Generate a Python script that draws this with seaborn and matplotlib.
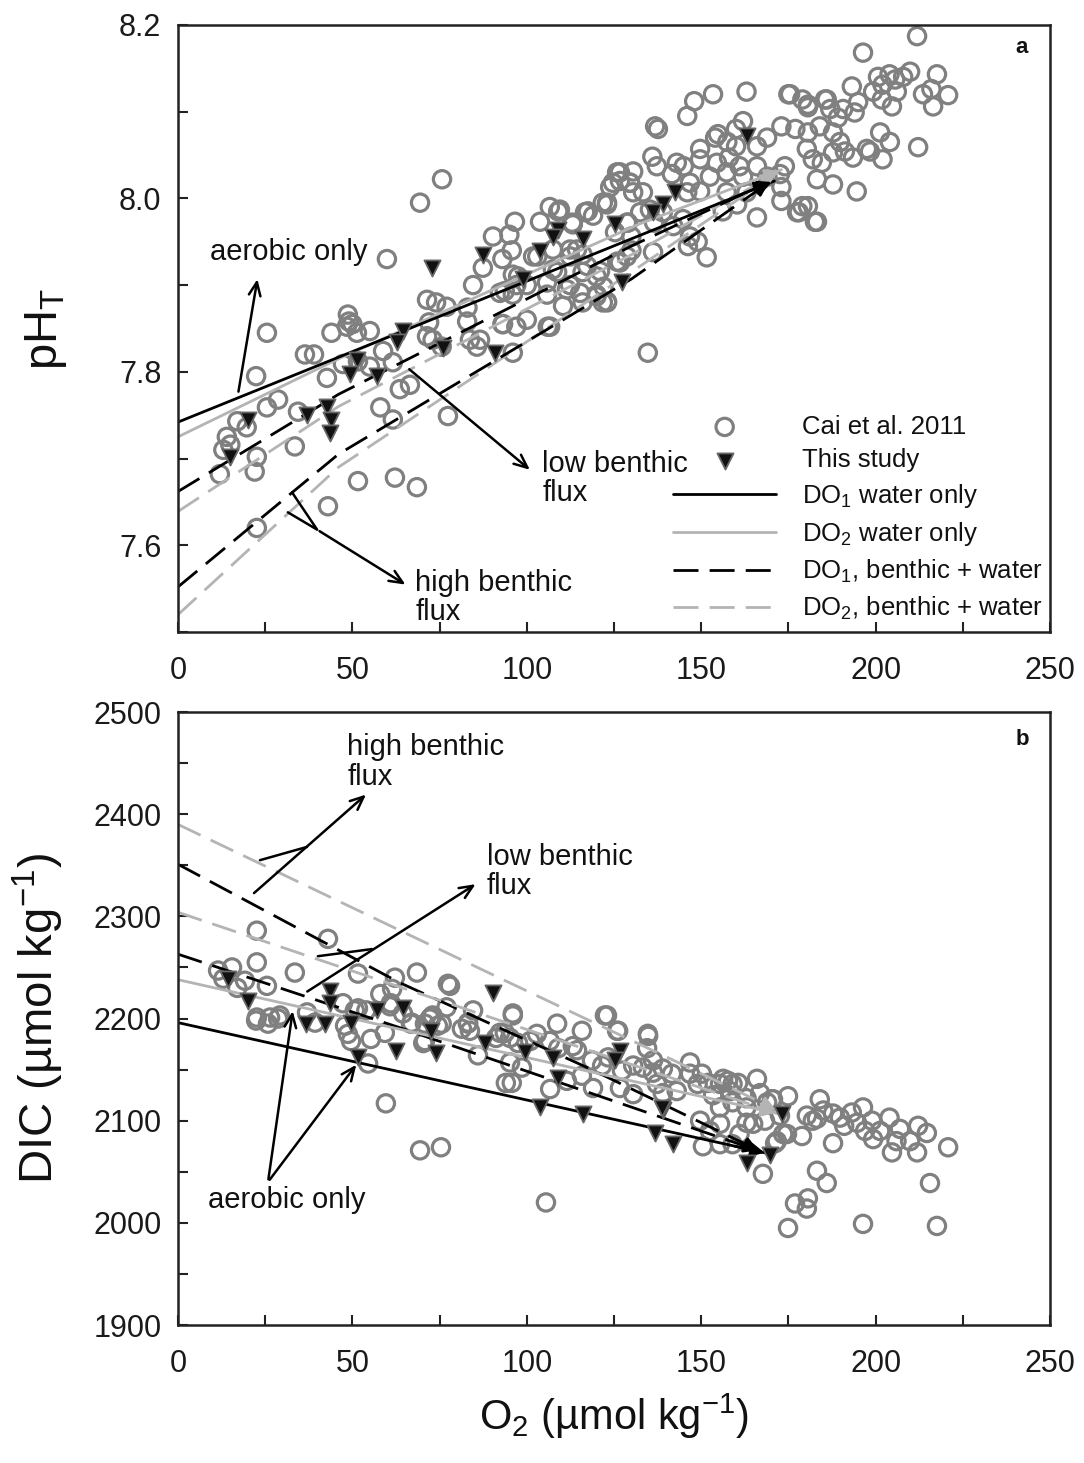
import matplotlib
matplotlib.use("Agg")
import numpy as np
import pandas as pd
import matplotlib.pyplot as plt
import seaborn as sns
from matplotlib.ticker import MultipleLocator

# ---------------- panel a: pH vs O2 ----------------
cai_a_o2 = [13, 14, 25.5, 36.4, 39, 44, 48.4, 51.3, 55, 49, 22.4, 15, 12, 17, 19.7, 25.5, 28.7, 22.6, 22, 34.4,
            33.5, 42.7, 47.3, 51.6, 55, 58.8, 61.6, 63.6, 66.5, 58, 61.6, 51.6, 62.2, 68.5, 43, 22.6, 77.4, 96, 106, 93,
            83.7, 85.7, 72, 71.4, 75.7, 69.4, 59.9, 48.7, 50, 71.4, 74, 77, 84.6, 83, 90.3, 95, 96.6, 95.7, 93, 87.4,
            93.7, 97, 97.5, 97, 100, 105.8, 103.8, 106.6, 109, 113, 116.7, 119, 121.8, 123.9, 101.8, 108.7, 112.4, 114.4, 117.3, 120,
            112.4, 120, 121.8, 106.7, 96, 92.3, 96, 100, 82.9, 73, 75.6, 86.6, 93.2, 109.5, 113.2, 117.5, 123, 125.9, 126.7, 129.6,
            130.5, 128.7, 103, 107.5, 107.5, 112.4, 116, 116, 121, 105.8, 111.5, 115.3, 116, 120, 123, 125.9, 128.7, 110.4, 134.7,
            211.9, 196.4, 193.2, 153.4, 163, 175, 179, 180.6, 185.5, 148, 146, 136.8, 137.6, 162, 136, 143, 145, 141.6, 149.7,
            154, 157.5, 160, 166, 168.9, 173, 177, 180.6, 184, 187.8, 189.8, 180.3, 182, 184.6, 187.8, 191.2, 193.5, 197.5, 201.3,
            204.1, 202, 212.2, 183.2, 187.8, 194.6, 177.5, 180.6, 183.2, 166, 173, 173, 172.6, 174, 160, 154.8, 149.7, 154.5, 158,
            161, 166, 169, 162, 157.3, 152.5, 146.8, 149.7, 157.3, 163, 146, 137.3, 130.5, 126.7, 124.7, 129.6, 133.3, 123, 132.5,
            135.3, 139, 136.5, 142, 129, 125.3, 130, 144.8, 146.8, 136.2, 146.2, 149, 151.6, 123, 122, 126.7, 130, 156.2, 160.3,
            200.7, 204, 205.6, 209.9, 207.9, 217.6, 216, 213.6, 220.8, 216.5, 199.3, 201.8, 204.7, 206.1, 202, 195, 190.7, 194,
            187, 186, 175.5, 180.6, 189.2, 198.4, 182.6, 178, 179]
cai_a_ph = [7.71, 7.725, 7.845, 7.82, 7.82, 7.845, 7.852, 7.845, 7.847, 7.858, 7.795, 7.716, 7.682, 7.743, 7.736, 7.759, 7.768, 7.702, 7.685, 7.754,
            7.714, 7.793, 7.809, 7.812, 7.806, 7.824, 7.811, 7.78, 7.785, 7.759, 7.745, 7.674, 7.678, 7.667, 7.645, 7.62, 7.749, 7.822, 7.852, 7.855,
            7.837, 7.829, 7.857, 7.841, 8.022, 7.995, 7.93, 7.866, 7.855, 7.883, 7.88, 7.875, 7.9, 7.874, 7.956, 7.958, 7.973, 7.94, 7.93, 7.92,
            7.893, 7.9, 7.91, 7.852, 7.86, 7.889, 7.973, 7.99, 7.985, 7.972, 7.984, 7.98, 7.995, 8.013, 7.933, 7.915, 7.933, 7.941, 7.922, 7.91,
            7.9, 7.887, 7.88, 7.852, 7.912, 7.891, 7.889, 7.9, 7.858, 7.837, 7.829, 7.837, 7.855, 7.987, 7.97, 7.985, 7.995, 8.03, 8.02, 8.018,
            8.007, 7.972, 7.933, 7.941, 7.918, 7.941, 7.935, 7.915, 7.916, 7.903, 7.895, 7.891, 7.88, 7.889, 7.88, 7.927, 7.933, 7.876, 7.822,
            8.187, 8.168, 8.129, 8.12, 8.123, 8.12, 8.114, 8.108, 8.114, 8.112, 8.095, 8.083, 8.08, 8.089, 8.048, 8.041, 8.037, 8.028, 8.057,
            8.07, 8.065, 8.06, 8.06, 8.07, 8.083, 8.08, 8.076, 8.083, 8.076, 8.065, 8.057, 8.045, 8.041, 8.053, 8.054, 8.047, 8.057, 8.076,
            8.065, 8.045, 8.059, 8.022, 8.016, 8.008, 7.984, 7.991, 7.973, 7.978, 7.997, 8.013, 8.028, 8.037, 8.08, 8.074, 8.045, 8.041, 8.047,
            8.037, 8.037, 8.025, 8.025, 8.03, 8.025, 8.018, 8.008, 8.007, 8.007, 8.007, 8.037, 8.031, 8.03, 8.018, 8.018, 8.007, 7.993, 7.984,
            7.987, 7.984, 7.972, 7.968, 7.972, 7.961, 7.956, 7.976, 7.956, 7.938, 7.945, 7.95, 7.932, 7.881, 7.898, 7.926, 7.94, 7.985, 7.993,
            8.14, 8.143, 8.137, 8.146, 8.14, 8.143, 8.126, 8.12, 8.119, 8.106, 8.123, 8.114, 8.106, 8.123, 8.131, 8.111, 8.103, 8.099,
            8.103, 8.114, 8.12, 8.105, 8.093, 8.054, 7.973, 7.984, 7.991]

study_a_o2 = [72.8, 87.4, 103.8, 109, 107.5, 116, 64.5, 125.3, 127.3, 99, 62.8, 76, 51.3, 49.3, 57, 91, 20, 15, 37, 42.7,
              44, 43.6, 163, 142.5, 139, 136.2]
study_a_ph = [7.92, 7.935, 7.939, 7.964, 7.956, 7.953, 7.847, 7.97, 7.904, 7.907, 7.834, 7.828, 7.814, 7.797, 7.795, 7.822, 7.745, 7.702, 7.75, 7.76,
              7.745, 7.73, 8.072, 8.007, 7.993, 7.984]

# model trajectories (start -> end)
a_do1_water_o2 = [0, 171]
a_do1_water_ph = [7.742, 8.02]
a_do2_water_o2 = [0, 46, 132, 173]
a_do2_water_ph = [7.725, 7.815, 7.97, 8.033]
a_do1_low_o2 = [0, 46, 130, 170]
a_do1_low_ph = [7.662, 7.774, 7.945, 8.02]
a_do2_low_o2 = [0, 46, 130, 172]
a_do2_low_ph = [7.639, 7.76, 7.935, 8.03]
a_do1_high_o2 = [0, 46, 130, 170]
a_do1_high_ph = [7.552, 7.705, 7.907, 8.02]
a_do2_high_o2 = [0, 46, 130, 172]
a_do2_high_ph = [7.52, 7.69, 7.915, 8.03]

# ---------------- panel b: DIC vs O2 ----------------
cai_b_o2 = [22.6, 43, 22.6, 33.5, 15.5, 11.5, 13, 17, 25.5, 51.6, 62.2, 68.5, 77.4, 58, 61.4, 96, 22.6, 26.4, 29.2, 37,
            47.3, 51.6, 60.8, 64.5, 73, 77, 84.6, 19.2, 61, 22.4, 25.8, 28.7, 39.3, 47.9, 48.7, 49.6, 55.3, 59.3, 50.7, 54,
            66.8, 70.8, 74.5, 72.5, 70.8, 83.1, 86, 91.2, 93.7, 94, 54.5, 59.6, 69.4, 75.4, 78, 67, 72.2, 75.6, 83.2, 83.7,
            81.4, 70.3, 96, 92.3, 95.2, 97.5, 101, 102.9, 95.2, 98.6, 95.7, 108.7, 106.6, 109, 113.2, 115.8, 114.4, 118.7, 115.8, 119,
            106.7, 111.5, 122.4, 126.2, 123.3, 121.6, 127.3, 130.5, 126.7, 130.5, 134.7, 134.5, 136.2, 133.3, 136.2, 139, 141.6, 137.3, 139, 143,
            146.8, 146.8, 150.2, 149, 152, 153.4, 155.4, 157.7, 160.6, 158.3, 155.4, 159, 163, 163, 166, 166.9, 168.9, 170.6, 174.9, 172.6,
            173.5, 171.7, 168.3, 164.9, 161, 163, 155.4, 152.5, 149.7, 150.5, 155.4, 159, 167.7, 180.3, 178.9, 182, 184, 183.2, 187.8, 189.8,
            187.8, 193.2, 196.4, 194.7, 199, 201.3, 199.3, 204, 207, 204.7, 209.9, 211.9, 212.2, 214.7, 220.8, 183.2, 186, 176.9, 180.6, 180.3,
            174.9, 196.4, 215.6, 217.6, 105.5, 123, 125.9, 134.8, 156.3, 159, 170.3, 174.6, 171.2, 185, 191, 197, 206]
cai_b_dic = [2286, 2278, 2255, 2245, 2250, 2247, 2239, 2230, 2232, 2244, 2240, 2245, 2234, 2224, 2229, 2205, 2201, 2201, 2203, 2206,
             2215, 2210, 2212, 2205, 2203, 2211, 2208, 2237, 2215, 2198, 2195, 2200, 2196, 2193, 2185, 2178, 2180, 2186, 2208, 2208,
             2195, 2195, 2193, 2201, 2178, 2195, 2164, 2181, 2186, 2137, 2156, 2117, 2071, 2074, 2232, 2196, 2200, 2195, 2196, 2188,
             2190, 2176, 2203, 2186, 2181, 2176, 2178, 2185, 2157, 2152, 2137, 2195, 2178, 2171, 2173, 2188, 2169, 2159, 2144, 2132,
             2131, 2139, 2203, 2188, 2162, 2154, 2149, 2154, 2132, 2126, 2185, 2171, 2159, 2152, 2147, 2151, 2146, 2136, 2127, 2129,
             2157, 2146, 2146, 2136, 2137, 2125, 2136, 2139, 2137, 2129, 2113, 2118, 2122, 2113, 2141, 2127, 2118, 2121, 2124, 2105,
             2087, 2080, 2100, 2097, 2087, 2098, 2097, 2090, 2100, 2075, 2077, 2077, 2048, 2105, 2085, 2100, 2121, 2102, 2107, 2103,
             2078, 2108, 2113, 2098, 2100, 2090, 2082, 2103, 2092, 2069, 2080, 2069, 2095, 2088, 2074, 2051, 2039, 2019, 2024, 2014,
             1995, 1999, 2039, 1997, 2020, 2203, 2188, 2183, 2141, 2136, 2121, 2087, 2078, 2110, 2095, 2090, 2080]

study_b_o2 = [14.3, 20, 43.6, 43.6, 57, 64.5, 90.3, 36.7, 42.1, 49.6, 72.5, 74, 62.5, 51.6, 88, 99.5, 107.5, 109, 126.7, 125.3,
              139, 103.8, 116.1, 136.8, 142, 163, 169.7, 173.2, 138.7]
study_b_dic = [2239, 2217, 2227, 2215, 2208, 2210, 2225, 2195, 2195, 2196, 2188, 2166, 2168, 2162, 2176, 2167, 2161, 2142, 2168, 2159,
               2110, 2113, 2107, 2088, 2077, 2059, 2066, 2107, 2112]

b_do1_water_o2 = [0, 169]
b_do1_water_dic = [2196, 2068]
b_do2_water_o2 = [0, 63, 172]
b_do2_water_dic = [2238, 2190, 2107]
b_do1_low_o2 = [0, 64.5, 167]
b_do1_low_dic = [2263, 2190, 2070]
b_do2_low_o2 = [0, 67, 172]
b_do2_low_dic = [2304, 2227, 2107]
b_do1_high_o2 = [0, 63.6, 118, 167]
b_do1_high_dic = [2351, 2235, 2151, 2070]
b_do2_high_o2 = [0, 92, 144, 172]
b_do2_high_dic = [2390, 2240, 2156, 2110]

# ---------------- style ----------------
sns.set_theme(style="ticks")
plt.rcParams["font.family"] = ["Liberation Sans", "DejaVu Sans"]
plt.rcParams["mathtext.fontset"] = "custom"
plt.rcParams["mathtext.rm"] = "Liberation Sans"
plt.rcParams["mathtext.it"] = "Liberation Sans:italic"
plt.rcParams["mathtext.bf"] = "Liberation Sans:bold"

CIRC = "#808080"
GRAY_LINE = "#b4b4b4"
LW = 2.0
DASH = (0, (9, 4))

fig = plt.figure(figsize=(10.84, 14.63), dpi=100)
ax_a = fig.add_axes([0.1642, 0.568, 0.8044, 0.415])
ax_b = fig.add_axes([0.1642, 0.0943, 0.8044, 0.419])


def draw_line(ax, xs, ys, color, ls, label=None):
    sns.lineplot(x=xs, y=ys, ax=ax, sort=False, color=color, linewidth=LW,
                 linestyle=ls, label=label, legend=False)
    # filled arrow head at the end of the trajectory
    ax.annotate("", xy=(xs[-1], ys[-1]),
                xytext=(xs[-1] - 0.06 * (xs[-1] - xs[-2]), ys[-1] - 0.06 * (ys[-1] - ys[-2])),
                arrowprops=dict(arrowstyle="-|>", color=color, lw=LW, mutation_scale=20))


def draw_points(ax, xs, ys, label_c=None, label_t=None, tx=None, ty=None):
    sns.scatterplot(x=xs, y=ys, ax=ax, marker="o", s=155, facecolor="none",
                    edgecolor=CIRC, linewidth=2.3, label=label_c, legend=False, zorder=2)
    sns.scatterplot(x=tx, y=ty, ax=ax, marker="v", s=135, color="#111111",
                    edgecolor="#666666", linewidth=1.3, label=label_t, legend=False, zorder=4)


def style_axis(ax):
    for sp in ax.spines.values():
        sp.set_visible(True)
        sp.set_linewidth(1.8)
        sp.set_color("#222222")
    ax.tick_params(axis="both", which="both", direction="in", length=7, width=1.5,
                   labelsize=22, colors="#222222", labelcolor="#1a1a1a")
    ax.tick_params(axis="y", pad=12)
    ax.tick_params(axis="x", pad=17)
    ax.set_xlim(0, 250)
    ax.xaxis.set_major_locator(MultipleLocator(50))
    ax.xaxis.set_minor_locator(MultipleLocator(25))


ARW = dict(arrowstyle="->, head_length=0.8, head_width=0.35", color="black", lw=1.8)
TXT = dict(fontsize=21, color="#111111", linespacing=1.05)

# ---- panel a ----
draw_points(ax_a, cai_a_o2, cai_a_ph, "Cai et al. 2011", "This study", study_a_o2, study_a_ph)
draw_line(ax_a, a_do2_high_o2, a_do2_high_ph, GRAY_LINE, DASH)
draw_line(ax_a, a_do1_high_o2, a_do1_high_ph, "black", DASH)
draw_line(ax_a, a_do2_low_o2, a_do2_low_ph, GRAY_LINE, DASH, "DO$_2$, benthic + water")
draw_line(ax_a, a_do1_low_o2, a_do1_low_ph, "black", DASH, "DO$_1$, benthic + water")
draw_line(ax_a, a_do2_water_o2, a_do2_water_ph, GRAY_LINE, "-", "DO$_2$ water only")
draw_line(ax_a, a_do1_water_o2, a_do1_water_ph, "black", "-", "DO$_1$ water only")

style_axis(ax_a)
ax_a.set_ylim(7.5, 8.2)
ax_a.yaxis.set_major_locator(MultipleLocator(0.2))
ax_a.yaxis.set_minor_locator(MultipleLocator(0.1))
ax_a.set_xlabel("")
ax_a.set_ylabel("pH$_\\mathrm{T}$", fontsize=34, color="#111111")
ax_a.yaxis.set_label_coords(-0.125, 0.5)
ax_a.text(0.968, 0.962, "a", transform=ax_a.transAxes, ha="center", va="center",
          fontsize=16, fontweight="bold", color="#111111")

ax_a.annotate("", xy=(22.9, 7.91), xytext=(17.2, 7.774), arrowprops=ARW)
ax_a.text(9.2, 7.938, "aerobic only", va="center", ha="left", **TXT)
ax_a.annotate("", xy=(101.5, 7.685), xytext=(65.7, 7.805), arrowprops=ARW)
ax_a.text(104.4, 7.71, "low benthic\nflux", va="top", ha="left", **TXT)
ax_a.plot([32.7, 39.9, 31.5], [7.661, 7.618, 7.638], color="black", lw=1.8)
ax_a.annotate("", xy=(65.9, 7.553), xytext=(39.9, 7.618), arrowprops=ARW)
ax_a.text(68, 7.573, "high benthic\nflux", va="top", ha="left", **TXT)

h, l = ax_a.get_legend_handles_labels()
order = ["Cai et al. 2011", "This study", "DO$_1$ water only", "DO$_2$ water only",
         "DO$_1$, benthic + water", "DO$_2$, benthic + water"]
hd = dict(zip(l, h))
leg = ax_a.legend([hd[k] for k in order], order, loc="upper left", bbox_to_anchor=(0.568, 0.358),
                  frameon=False, fontsize=18.5, handlelength=4.0, handletextpad=1.0,
                  labelspacing=0.38, borderpad=0, borderaxespad=0, scatterpoints=1)
for t in leg.get_texts():
    t.set_color("#111111")

# ---- panel b ----
draw_points(ax_b, cai_b_o2, cai_b_dic, tx=study_b_o2, ty=study_b_dic)
draw_line(ax_b, b_do2_high_o2, b_do2_high_dic, GRAY_LINE, DASH)
draw_line(ax_b, b_do1_high_o2, b_do1_high_dic, "black", DASH)
draw_line(ax_b, b_do2_low_o2, b_do2_low_dic, GRAY_LINE, DASH)
draw_line(ax_b, b_do1_low_o2, b_do1_low_dic, "black", DASH)
draw_line(ax_b, b_do2_water_o2, b_do2_water_dic, GRAY_LINE, "-")
draw_line(ax_b, b_do1_water_o2, b_do1_water_dic, "black", "-")

style_axis(ax_b)
ax_b.set_ylim(1900, 2500)
ax_b.yaxis.set_major_locator(MultipleLocator(100))
ax_b.yaxis.set_minor_locator(MultipleLocator(50))
ax_b.set_ylabel("DIC (µmol kg$^{-1}$)", fontsize=34, color="#111111")
ax_b.yaxis.set_label_coords(-0.128, 0.5)
ax_b.set_xlabel("O$_2$ (µmol kg$^{-1}$)", fontsize=30, color="#111111")
ax_b.xaxis.set_label_coords(0.5, -0.108)
ax_b.text(0.968, 0.955, "b", transform=ax_b.transAxes, ha="center", va="center",
          fontsize=16, fontweight="bold", color="#111111")

ax_b.plot([23.5, 37], [2355, 2368], color="black", lw=1.8)
ax_b.annotate("", xy=(54.5, 2421), xytext=(21.2, 2321), arrowprops=ARW)
ax_b.text(48.5, 2479, "high benthic\nflux", va="top", ha="left", **TXT)
ax_b.plot([40.1, 55.6], [2261, 2268], color="black", lw=1.8)
ax_b.annotate("", xy=(86, 2333), xytext=(36.4, 2225), arrowprops=ARW)
ax_b.text(88.6, 2372, "low benthic\nflux", va="top", ha="left", **TXT)
ax_b.annotate("", xy=(33, 2210), xytext=(25.8, 2040), arrowprops=ARW)
ax_b.annotate("", xy=(51.6, 2157), xytext=(25.8, 2040), arrowprops=ARW)
ax_b.text(8.6, 2022, "aerobic only", va="center", ha="left", **TXT)

fig.savefig("out.png", dpi=100)
